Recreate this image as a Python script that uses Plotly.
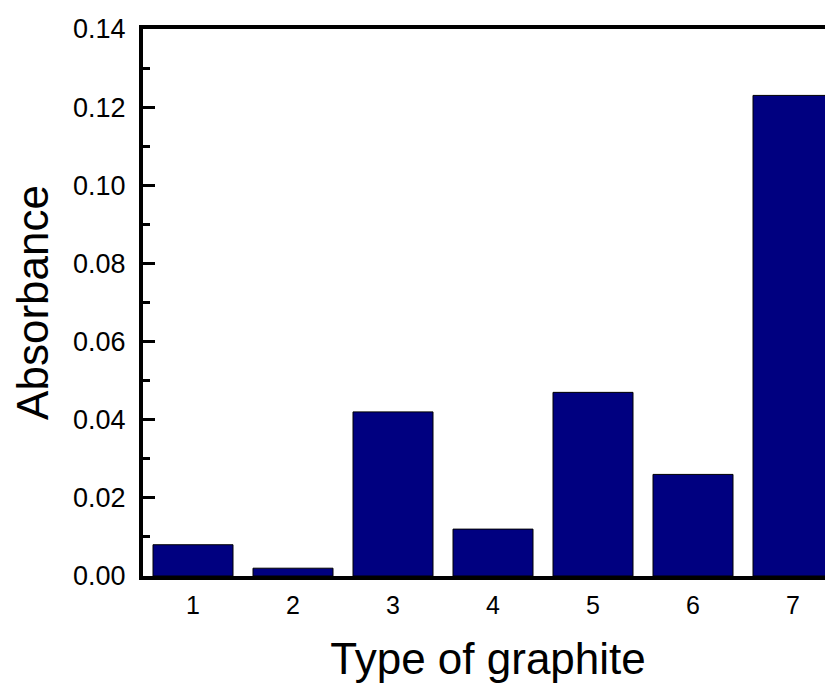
import plotly.graph_objects as go

categories = [1, 2, 3, 4, 5, 6, 7]
absorbance = [0.008, 0.002, 0.042, 0.012, 0.047, 0.026, 0.123]
y_ticks = [0.00, 0.02, 0.04, 0.06, 0.08, 0.10, 0.12, 0.14]
y_tick_labels = ["0.00", "0.02", "0.04", "0.06", "0.08", "0.10", "0.12", "0.14"]

fig = go.Figure(go.Bar(
    x=categories, y=absorbance, width=0.8,
    marker=dict(color="#000080", line=dict(color="#000000", width=1)),
))

font = "Liberation Sans, Arial, sans-serif"
fig.update_layout(
    width=825, height=676,
    margin=dict(l=135, r=0, t=21, b=108),
    plot_bgcolor="white", paper_bgcolor="white",
    showlegend=False,
    font=dict(family=font, color="black"),
)
fig.update_xaxes(
    range=[0.5, 7.4], tickvals=categories, ticktext=[str(c) for c in categories],
    showline=True, linecolor="black", linewidth=4, mirror=True,
    ticks="", showgrid=False, zeroline=False, automargin=False,
    tickfont=dict(size=25), ticklabelstandoff=4,
    title=dict(text="Type of graphite", font=dict(size=44), standoff=26),
)
fig.update_yaxes(
    range=[0, 0.14], tickvals=y_ticks, ticktext=y_tick_labels,
    showline=True, linecolor="black", linewidth=4,
    ticks="inside", ticklen=12, tickwidth=3, tickcolor="black",
    minor=dict(ticks="inside", ticklen=7, tickwidth=3, tickcolor="black", dtick=0.01),
    showgrid=False, zeroline=False, automargin=False,
    tickfont=dict(size=27), ticklabelstandoff=8,
    title=dict(text="Absorbance", font=dict(size=44), standoff=16),
)

fig.write_html("out.html")
